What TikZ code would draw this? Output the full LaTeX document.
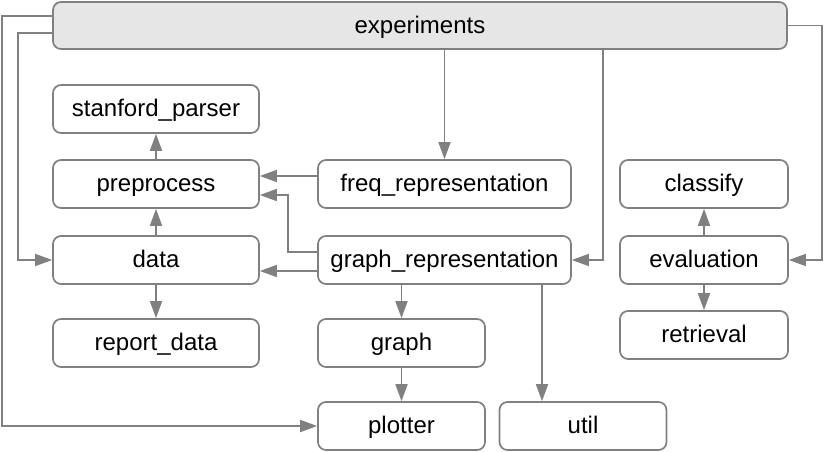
\documentclass[tikz,border=0pt]{standalone}
\usepackage{fontspec}
\setmainfont{Liberation Sans}
\usetikzlibrary{arrows.meta}
\definecolor{edgegray}{RGB}{128,128,128}
\definecolor{topfill}{RGB}{230,230,230}
\begin{document}
\begin{tikzpicture}[x=1pt,y=-1pt,font=\fontsize{24}{28}\selectfont,
    box/.style={draw=edgegray,line width=1.7pt,rounded corners=8pt,fill=white,inner sep=0pt,
      minimum height=48pt,text height=15pt,text depth=0pt},
    topbox/.style={box,fill=topfill,minimum height=47pt},
    link/.style={draw=edgegray,line width=1.7pt,-{Triangle[length=17pt,width=12pt]}}]
      \useasboundingbox (0,0) rectangle (824,451);
      \node[topbox,minimum width=734pt] (exp) at (420, 25.5) {experiments};
      \node[box,minimum width=206pt] (stanford) at (156, 109) {stanford\_parser};
      \node[box,minimum width=206pt] (preprocess) at (156, 184) {preprocess};
      \node[box,minimum width=206pt] (data) at (156, 260) {data};
      \node[box,minimum width=206pt] (report) at (156, 343) {report\_data};
      \node[box,minimum width=253pt] (freqrep) at (444.5, 184) {freq\_representation};
      \node[box,minimum width=253pt] (graphrep) at (444.5, 260) {graph\_representation};
      \node[box,minimum width=167pt] (graph) at (401.5, 343) {graph};
      \node[box,minimum width=167pt] (plotter) at (401.5, 426) {plotter};
      \node[box,minimum width=167pt] (util) at (583, 426) {util};
      \node[box,minimum width=168pt] (classify) at (704, 184) {classify};
      \node[box,minimum width=168pt] (evaluation) at (704, 260) {evaluation};
      \node[box,minimum width=168pt] (retrieval) at (704, 335) {retrieval};
      % bends of the long connectors
      \coordinate (rbend) at (822, 260);
      \coordinate (dbend) at (18, 260);
      \coordinate (pbend) at (2, 426);
      % from experiments
      \draw[link] (exp.south -| freqrep.north) to (freqrep.north);
      \draw[link] ([xshift=183pt]exp.south) |- (graphrep.east);
      \draw[link] (exp.east) -| (rbend) to (evaluation.east);
      \draw[link] ([yshift=-7.5pt]exp.west) -| (dbend) to (data.west);
      \draw[link] ([yshift=9.5pt]exp.west) -| (pbend) to (plotter.west);
      % left column
      \draw[link] (preprocess.north) to (stanford.south);
      \draw[link] (data.north) to (preprocess.south);
      \draw[link] (data.south) to (report.north);
      \draw[link] ([yshift=8pt]freqrep.west) to ([yshift=8pt]preprocess.east);
      \draw[link] ([yshift=8pt]graphrep.west) -- ++(-29pt,0) |- ([yshift=-11pt]preprocess.east);
      \draw[link] ([yshift=-11pt]graphrep.west) to ([yshift=-11pt]data.east);
      % middle column
      \draw[link] (graphrep.south -| graph.north) to (graph.north);
      \draw[link] ([xshift=97.5pt]graphrep.south) to ([xshift=-41pt]util.north);
      \draw[link] (graph.south) to (plotter.north);
      % right column
      \draw[link] (evaluation.north) to (classify.south);
      \draw[link] (evaluation.south) to (retrieval.north);
    \end{tikzpicture}
\end{document}
